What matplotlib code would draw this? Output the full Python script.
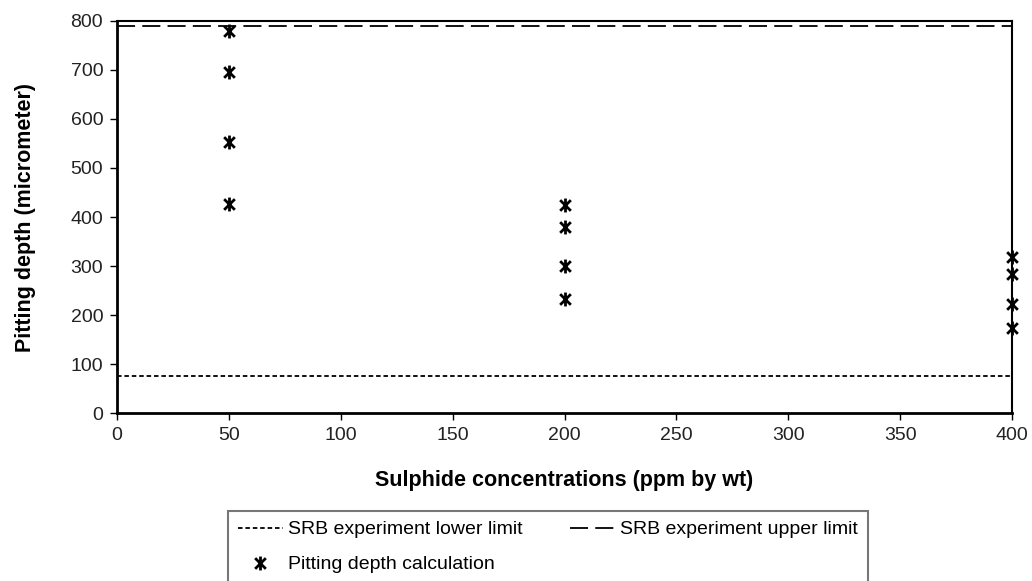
import matplotlib
matplotlib.use("Agg")
import matplotlib.pyplot as plt
from matplotlib.path import Path

plt.rcParams["font.family"] = ["Liberation Sans", "DejaVu Sans"]

# data
conc = [50, 50, 50, 50, 200, 200, 200, 200, 400, 400, 400, 400]
depth = [779, 695, 552, 427, 424, 379, 301, 233, 318, 284, 223, 174]
lower_limit = 75
upper_limit = 790
x_ticks = [0, 50, 100, 150, 200, 250, 300, 350, 400]
y_ticks = [0, 100, 200, 300, 400, 500, 600, 700, 800]

# excel style star: an x with a vertical stroke
star = Path([(-1, -1), (1, 1), (-1, 1), (1, -1), (0, -1.3), (0, 1.3)],
            [Path.MOVETO, Path.LINETO, Path.MOVETO, Path.LINETO, Path.MOVETO, Path.LINETO])

fig = plt.figure(figsize=(10.32, 5.81), dpi=100)
ax = fig.add_axes([0.1134, 0.289, 0.8672, 0.675])

lo, = ax.plot([0, 400], [lower_limit, lower_limit], color="black", lw=1.3,
              linestyle=(0, (2.5, 1.6)), label="SRB experiment lower limit")
up, = ax.plot([0, 400], [upper_limit, upper_limit], color="black", lw=1.3,
              linestyle=(0, (10, 4)), label="SRB experiment upper limit")
pts, = ax.plot(conc, depth, linestyle="none", marker=star, markersize=10,
               markeredgewidth=2, color="black", clip_on=False,
               label="Pitting depth calculation", zorder=5)

ax.set_xlim(0, 400)
ax.set_ylim(0, 800)
ax.set_xticks(x_ticks)
ax.set_yticks(y_ticks)
ax.tick_params(direction="out", length=5, width=1, labelsize=14, colors="black",
               labelcolor="#222222", pad=5)
for side in ["left", "bottom"]:
    ax.spines[side].set_linewidth(2)
for side in ["top", "right"]:
    ax.spines[side].set_linewidth(1.5)

ax.set_xlabel("Sulphide concentrations (ppm by wt)", fontsize=15.5, fontweight="bold",
              labelpad=19)
ax.set_ylabel("Pitting depth (micrometer)", fontsize=15.5, fontweight="bold", labelpad=25)

leg = fig.legend(handles=[lo, pts, up], loc="upper left", bbox_to_anchor=(0.221, 0.1205),
                 ncol=2, fontsize=14, frameon=True, fancybox=False, handlelength=2.3,
                 handletextpad=0.3, columnspacing=2.4, borderpad=0.5, labelspacing=0.9,
                 borderaxespad=0)
leg.get_frame().set_edgecolor("#555555")
leg.get_frame().set_linewidth(1.5)

fig.savefig("out.png", dpi=100)
